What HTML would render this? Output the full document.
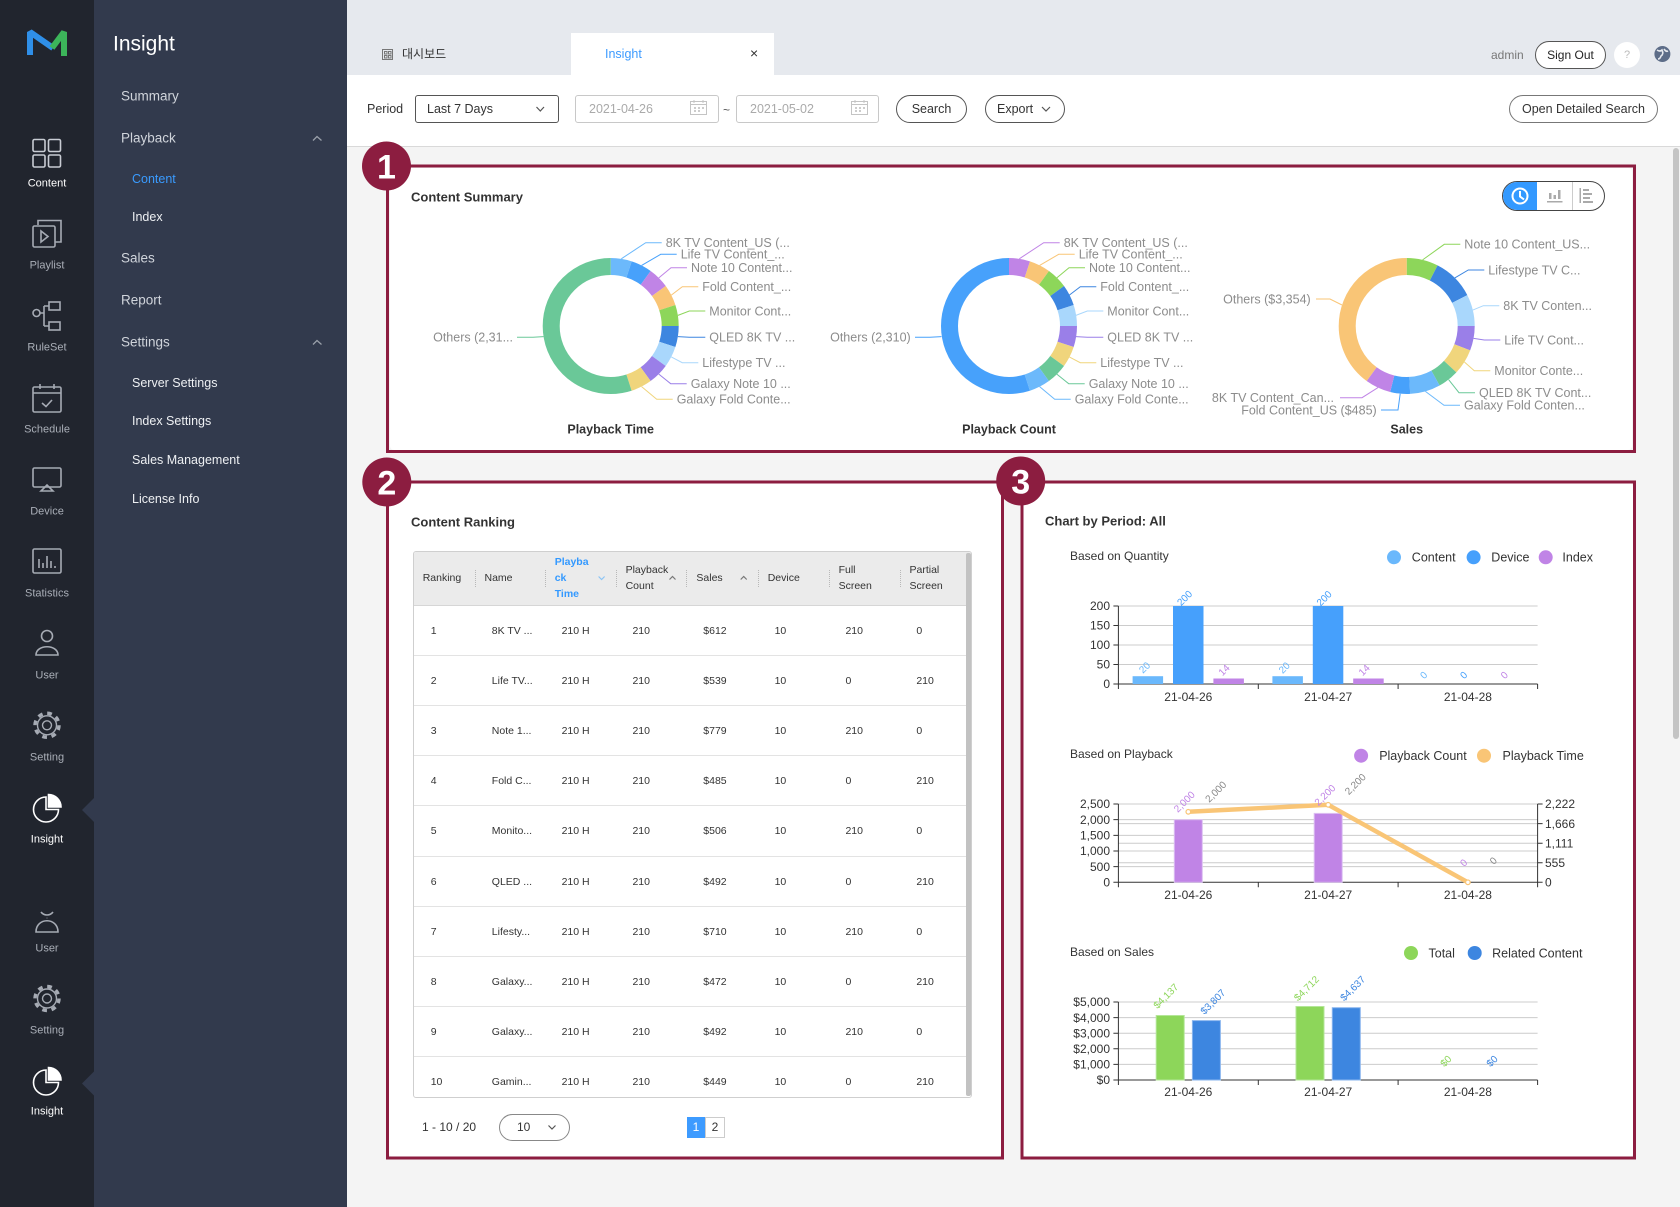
<!DOCTYPE html>
<html><head><meta charset="utf-8">
<style>
*{margin:0;padding:0;box-sizing:border-box}
body{width:1680px;height:1207px;overflow:hidden;background:#f4f4f4;font-family:"Liberation Sans","Noto Sans CJK KR",sans-serif;position:relative}
.a{position:absolute}
.t{position:absolute;white-space:nowrap;transform:translateY(-50%);line-height:1}
.sl{position:absolute;left:0;width:94px;text-align:center;font-size:11px;color:#a9aeb7;transform:translateY(-50%);line-height:1}
.mi{font-size:13.5px;color:#d0d4db}
.si{font-size:12.5px;color:#eef0f3}
.pill{position:absolute;border:1px solid #555;border-radius:14px;background:#fff;font-size:12.5px;color:#333;display:flex;align-items:center;justify-content:center}
.row{position:absolute;left:0;width:552px;height:50.12px;border-bottom:1px solid #e3e3e3;font-size:10.5px;color:#333;line-height:50px;white-space:nowrap;padding-left:16.7px}
.row span{display:inline-block}
.hd{position:absolute;font-size:10.5px;color:#333;line-height:16px;white-space:nowrap}
.sep{position:absolute;top:18px;height:17px;border-left:1px dotted #b8b8b8}
</style></head><body>

<!-- sidebars -->
<div class="a" style="left:0;top:0;width:94px;height:1207px;background:#21252e"></div>
<div class="a" style="left:94px;top:0;width:253px;height:1207px;background:#323a4d"></div>

<!-- header / toolbar -->
<div class="a" style="left:347px;top:0;width:1333px;height:75px;background:#e6e9ee"></div>
<div class="a" style="left:571px;top:33px;width:203px;height:42px;background:#fff"></div>
<div class="a" style="left:347px;top:75px;width:1333px;height:72px;background:#fff;border-bottom:1px solid #d9d9d9"></div>

<!-- cards -->
<div class="a" style="left:390px;top:168px;width:1242px;height:282px;background:#fff;border-radius:4px"></div>
<div class="a" style="left:389px;top:483px;width:612px;height:674px;background:#fff;border-radius:4px"></div>
<div class="a" style="left:1023px;top:483px;width:610px;height:674px;background:#fff;border-radius:4px"></div>

<!-- scrollbar -->
<div class="a" style="left:1673px;top:148px;width:6px;height:591px;background:#c4c4c4;border-radius:3px"></div>

<!-- sidebar labels -->
<div class="sl" style="top:184px;color:#fff">Content</div>
<div class="sl" style="top:266px">Playlist</div>
<div class="sl" style="top:348px">RuleSet</div>
<div class="sl" style="top:430px">Schedule</div>
<div class="sl" style="top:512px">Device</div>
<div class="sl" style="top:594px">Statistics</div>
<div class="sl" style="top:676px">User</div>
<div class="sl" style="top:758px">Setting</div>
<div class="sl" style="top:840px;color:#fff">Insight</div>
<div class="sl" style="top:949px">User</div>
<div class="sl" style="top:1031px">Setting</div>
<div class="sl" style="top:1112px;color:#fff">Insight</div>

<!-- menu -->
<div class="t" style="left:113px;top:44px;font-size:21px;color:#fff">Insight</div>
<div class="t mi" style="left:121px;top:96px">Summary</div>
<div class="t mi" style="left:121px;top:138px">Playback</div>
<div class="t si" style="left:132px;top:179px;color:#3a9bff">Content</div>
<div class="t si" style="left:132px;top:217px">Index</div>
<div class="t mi" style="left:121px;top:258px">Sales</div>
<div class="t mi" style="left:121px;top:300px">Report</div>
<div class="t mi" style="left:121px;top:342px">Settings</div>
<div class="t si" style="left:132px;top:383px">Server Settings</div>
<div class="t si" style="left:132px;top:421px">Index Settings</div>
<div class="t si" style="left:132px;top:460px">Sales Management</div>
<div class="t si" style="left:132px;top:499px">License Info</div>

<!-- header texts -->
<div class="t" style="left:402px;top:54px;font-size:12px;color:#333">대시보드</div>
<div class="t" style="left:605px;top:54px;font-size:12.5px;color:#3d9bff">Insight</div>
<div class="t" style="left:750px;top:53px;font-size:14px;color:#333">×</div>
<div class="t" style="left:1491px;top:55px;font-size:12px;color:#777">admin</div>
<div class="pill" style="left:1535px;top:41px;width:71px;height:28px;font-size:12px;color:#222">Sign Out</div>
<div class="a" style="left:1614px;top:42px;width:26px;height:26px;border-radius:13px;background:#fff;color:#bbb;font-size:11px;text-align:center;line-height:26px">?</div>

<!-- toolbar -->
<div class="t" style="left:367px;top:109px;font-size:12.5px;color:#333">Period</div>
<div class="a" style="left:415px;top:95px;width:144px;height:28px;border:1px solid #555;border-radius:3px"></div>
<div class="t" style="left:427px;top:109px;font-size:12.5px;color:#333">Last 7 Days</div>
<div class="a" style="left:575px;top:95px;width:144px;height:28px;border:1px solid #c8c8c8;border-radius:3px"></div>
<div class="t" style="left:589px;top:109px;font-size:12.5px;color:#aaa">2021-04-26</div>
<div class="t" style="left:723px;top:110px;font-size:12px;color:#555">~</div>
<div class="a" style="left:736px;top:95px;width:143px;height:28px;border:1px solid #c8c8c8;border-radius:3px"></div>
<div class="t" style="left:750px;top:109px;font-size:12.5px;color:#aaa">2021-05-02</div>
<div class="pill" style="left:896px;top:95px;width:71px;height:28px">Search</div>
<div class="pill" style="left:985px;top:95px;width:80px;height:28px;justify-content:flex-start;padding-left:11px">Export</div>
<div class="pill" style="left:1509px;top:95px;width:149px;height:28px;border-color:#777">Open Detailed Search</div>

<!-- toggle -->
<div class="a" style="left:1502px;top:181px;width:103px;height:30px;border:1px solid #444;border-radius:15px;overflow:hidden;background:#fff">
<div class="a" style="left:0;top:0;width:34px;height:30px;background:#3399ff"></div>
<div class="a" style="left:69px;top:0;width:1px;height:30px;background:#ccc"></div>
</div>

<!-- titles -->
<div class="t" style="left:411px;top:197px;font-size:13px;font-weight:bold;color:#333">Content Summary</div>
<div class="t" style="left:411px;top:522px;font-size:13px;font-weight:bold;color:#333">Content Ranking</div>
<div class="t" style="left:1045px;top:521px;font-size:13px;font-weight:bold;color:#333">Chart by Period: All</div>

<!-- table -->
<div class="a" style="left:413px;top:551px;width:559px;height:547px;border:1px solid #cfcfcf;border-radius:3px;background:#fff;overflow:hidden">
 <div class="a" style="left:0;top:0;width:557px;height:54px;background:#ebebeb;border-bottom:1px solid #d6d6d6"></div>
 <div class="hd" style="left:8.7px;top:18px">Ranking</div>
 <div class="hd" style="left:70.5px;top:18px">Name</div>
 <div class="hd" style="left:140.7px;top:1.7px;color:#3399ff;font-weight:bold">Playba<br>ck<br>Time</div>
 <div class="hd" style="left:211.6px;top:10px">Playback<br>Count</div>
 <div class="hd" style="left:282.4px;top:18px">Sales</div>
 <div class="hd" style="left:353.7px;top:18px">Device</div>
 <div class="hd" style="left:424.6px;top:10px">Full<br>Screen</div>
 <div class="hd" style="left:495.5px;top:10px">Partial<br>Screen</div>
 <div class="sep" style="left:60.7px"></div><div class="sep" style="left:130.5px"></div><div class="sep" style="left:201.7px"></div><div class="sep" style="left:272.3px"></div><div class="sep" style="left:343.9px"></div><div class="sep" style="left:414.8px"></div><div class="sep" style="left:485.6px"></div>
 <svg class="a" style="left:0;top:0" width="557" height="54"><polyline points="184.6,24.5 187.6,27.5 190.6,24.5" fill="none" stroke="#8cc4f5" stroke-width="1.2"/><polyline points="255.5,27.5 258.5,24.5 261.5,27.5" fill="none" stroke="#777" stroke-width="1.2"/><polyline points="326.7,27.5 329.7,24.5 332.7,27.5" fill="none" stroke="#777" stroke-width="1.2"/></svg>
 <div class="row" style="top:54px"><span style="width:61.1px">1</span><span style="width:69.8px">8K TV ...</span><span style="width:70.9px">210 H</span><span style="width:70.8px">210</span><span style="width:71.3px">$612</span><span style="width:70.9px">10</span><span style="width:70.9px">210</span><span>0</span></div>
 <div class="row" style="top:104.12px"><span style="width:61.1px">2</span><span style="width:69.8px">Life TV...</span><span style="width:70.9px">210 H</span><span style="width:70.8px">210</span><span style="width:71.3px">$539</span><span style="width:70.9px">10</span><span style="width:70.9px">0</span><span>210</span></div>
 <div class="row" style="top:154.24px"><span style="width:61.1px">3</span><span style="width:69.8px">Note 1...</span><span style="width:70.9px">210 H</span><span style="width:70.8px">210</span><span style="width:71.3px">$779</span><span style="width:70.9px">10</span><span style="width:70.9px">210</span><span>0</span></div>
 <div class="row" style="top:204.36px"><span style="width:61.1px">4</span><span style="width:69.8px">Fold C...</span><span style="width:70.9px">210 H</span><span style="width:70.8px">210</span><span style="width:71.3px">$485</span><span style="width:70.9px">10</span><span style="width:70.9px">0</span><span>210</span></div>
 <div class="row" style="top:254.48px"><span style="width:61.1px">5</span><span style="width:69.8px">Monito...</span><span style="width:70.9px">210 H</span><span style="width:70.8px">210</span><span style="width:71.3px">$506</span><span style="width:70.9px">10</span><span style="width:70.9px">210</span><span>0</span></div>
 <div class="row" style="top:304.6px"><span style="width:61.1px">6</span><span style="width:69.8px">QLED ...</span><span style="width:70.9px">210 H</span><span style="width:70.8px">210</span><span style="width:71.3px">$492</span><span style="width:70.9px">10</span><span style="width:70.9px">0</span><span>210</span></div>
 <div class="row" style="top:354.72px"><span style="width:61.1px">7</span><span style="width:69.8px">Lifesty...</span><span style="width:70.9px">210 H</span><span style="width:70.8px">210</span><span style="width:71.3px">$710</span><span style="width:70.9px">10</span><span style="width:70.9px">210</span><span>0</span></div>
 <div class="row" style="top:404.84px"><span style="width:61.1px">8</span><span style="width:69.8px">Galaxy...</span><span style="width:70.9px">210 H</span><span style="width:70.8px">210</span><span style="width:71.3px">$472</span><span style="width:70.9px">10</span><span style="width:70.9px">0</span><span>210</span></div>
 <div class="row" style="top:454.96px"><span style="width:61.1px">9</span><span style="width:69.8px">Galaxy...</span><span style="width:70.9px">210 H</span><span style="width:70.8px">210</span><span style="width:71.3px">$492</span><span style="width:70.9px">10</span><span style="width:70.9px">210</span><span>0</span></div>
 <div class="row" style="top:505.08px"><span style="width:61.1px">10</span><span style="width:69.8px">Gamin...</span><span style="width:70.9px">210 H</span><span style="width:70.8px">210</span><span style="width:71.3px">$449</span><span style="width:70.9px">10</span><span style="width:70.9px">0</span><span>210</span></div>
 <div class="a" style="left:552px;top:1px;width:5px;height:543px;background:#c2c2c2;border-radius:2px"></div>
</div>

<!-- pagination -->
<div class="t" style="left:422px;top:1127px;font-size:12px;color:#333">1 - 10 / 20</div>
<div class="a" style="left:499px;top:1114px;width:71px;height:27px;border:1px solid #888;border-radius:14px;background:#fff"></div>
<div class="t" style="left:517px;top:1127px;font-size:12px;color:#333">10</div>
<div class="a" style="left:687px;top:1117px;width:18px;height:21px;background:#3d9bff;color:#fff;font-size:12px;text-align:center;line-height:21px">1</div>
<div class="a" style="left:705px;top:1117px;width:20px;height:21px;border:1px solid #ccc;background:#fff;color:#333;font-size:12px;text-align:center;line-height:19px">2</div>

<svg class="a" style="left:0;top:0" width="1680" height="1207" font-family="Liberation Sans, sans-serif">
<!-- logo -->
<path d="M30 55 V32 L53 48" fill="none" stroke="#2f8fe8" stroke-width="6" stroke-linejoin="bevel"/>
<path d="M52 48 L64 32 V56" fill="none" stroke="#3cb55a" stroke-width="6" stroke-linejoin="bevel"/>
<!-- sidebar icons -->
<g fill="none" stroke="#a6abb4" stroke-width="1.6">
<rect x="33" y="139.5" width="12" height="12" rx="1.5" stroke="#c8ccd3"/><rect x="48.5" y="139.5" width="12" height="12" rx="1.5" stroke="#c8ccd3"/><rect x="33" y="155" width="12" height="12" rx="1.5" stroke="#c8ccd3"/><rect x="48.5" y="155" width="12" height="12" rx="1.5" stroke="#c8ccd3"/>
<path d="M38 225 V220.5 H61 V242 H55.5"/><rect x="33" y="226" width="22" height="21" rx="1.5"/><path d="M41 231 L48 236.5 L41 242 Z"/>
<circle cx="36.5" cy="313" r="3.5"/><rect x="49" y="302" width="11" height="8"/><rect x="49" y="322" width="11" height="8"/><path d="M40 313 H44 M44 306 V326 M44 306 H49 M44 326 H49"/>
<rect x="33" y="387" width="28" height="25" rx="1.5"/><path d="M33 393 H61 M40 384 V389 M54 384 V389 M42 403 L46 406.5 L52 400"/>
<rect x="33" y="468" width="28" height="19" rx="1.5"/><path d="M41 491 L47 485 L53 491 Z"/>
<rect x="33" y="549" width="28" height="24" rx="1.5"/><path d="M39 568 V559 M43 568 V563 M47 568 V556 M51 568 V561 M55 568 V566"/>
<circle cx="47" cy="636" r="5.5"/><path d="M36 655 C36 644 58 644 58 655 Z"/>
<circle cx="47" cy="918" r="0.1"/><path d="M41 912 C44 916 50 916 53 912"/><path d="M36 932 C36 917 58 917 58 932 Z"/>
</g>
<g fill="none" stroke="#a6abb4">
<circle cx="47" cy="725.3" r="12" stroke-width="3.5" stroke-dasharray="4.7 4.7"/><circle cx="47" cy="725.3" r="9.5" stroke-width="1.4"/><circle cx="47" cy="725.3" r="4.5" stroke-width="1.4"/>
<circle cx="47" cy="998.5" r="12" stroke-width="3.5" stroke-dasharray="4.7 4.7"/><circle cx="47" cy="998.5" r="9.5" stroke-width="1.4"/><circle cx="47" cy="998.5" r="4.5" stroke-width="1.4"/>
</g>
<g stroke="#fff" stroke-width="1.6">
<path d="M46 797 A12.5 12.5 0 1 0 58.5 809.5 L46 809.5 Z" fill="none"/><path d="M48.5 794.5 A12.5 12.5 0 0 1 61 807 L48.5 807 Z" fill="#fff"/>
<path d="M46 1070 A12.5 12.5 0 1 0 58.5 1082.5 L46 1082.5 Z" fill="none"/><path d="M48.5 1067.5 A12.5 12.5 0 0 1 61 1080 L48.5 1080 Z" fill="#fff"/>
</g>
<path d="M82 810 L94 798 V822 Z" fill="#323a4d"/>
<path d="M82 1083.5 L94 1071.5 V1095.5 Z" fill="#323a4d"/>
<g fill="none" stroke="#9aa0aa" stroke-width="1.3">
<polyline points="313,140.5 317,136.5 321.5,140.5"/><polyline points="313,344.5 317,340.5 321.5,344.5"/>
</g>
<!-- header icons -->
<g fill="none" stroke="#777" stroke-width="1"><rect x="382.5" y="49.5" width="10" height="10"/><rect x="384.5" y="51.5" width="2.5" height="2.5"/><rect x="388.5" y="51.5" width="2.5" height="2.5"/><rect x="384.5" y="55.5" width="2.5" height="2.5"/><rect x="388.5" y="55.5" width="2.5" height="2.5"/></g>
<circle cx="1662.4" cy="54" r="8" fill="#5d6d88"/><path d="M1657 50 q3 2 5 0 q2 4 -1 6 q-1 3 -3 3 M1664 49 q2 3 4 2" fill="none" stroke="#e6e9ee" stroke-width="1.6"/>
<!-- toolbar icons -->
<g fill="none" stroke="#555" stroke-width="1.2"><polyline points="536.5,107 540.3,111 544,107"/><polyline points="1042,107 1046,111 1050,107"/></g>
<g fill="none" stroke="#c4c4c4" stroke-width="1"><rect x="690.5" y="101.5" width="16" height="13"/><path d="M690.5 104.5 H706.5 M694 100 V103 M703 100 V103"/><rect x="851.5" y="101.5" width="16" height="13"/><path d="M851.5 104.5 H867.5 M855 100 V103 M864 100 V103"/></g>
<g fill="#ccc"><rect x="694" y="107" width="2" height="2"/><rect x="698" y="107" width="2" height="2"/><rect x="702" y="107" width="2" height="2"/><rect x="694" y="110" width="2" height="2"/><rect x="698" y="110" width="2" height="2"/><rect x="855" y="107" width="2" height="2"/><rect x="859" y="107" width="2" height="2"/><rect x="863" y="107" width="2" height="2"/><rect x="855" y="110" width="2" height="2"/><rect x="859" y="110" width="2" height="2"/></g>
<!-- toggle icons -->
<circle cx="1520" cy="196" r="7.5" fill="none" stroke="#fff" stroke-width="2"/><path d="M1520 191 V196.5 L1524 199.5" fill="none" stroke="#fff" stroke-width="2"/>
<g fill="#aaa"><rect x="1549" y="193" width="2.5" height="6"/><rect x="1553.5" y="195" width="2.5" height="4"/><rect x="1558" y="190" width="2.5" height="9"/><rect x="1547" y="201" width="15.5" height="1.5"/>
<rect x="1579.5" y="188" width="1.5" height="15"/><rect x="1583" y="189" width="6" height="2"/><rect x="1583" y="193" width="9" height="2"/><rect x="1583" y="197" width="7" height="2"/><rect x="1583" y="201" width="10" height="2"/></g>
<!-- pagination chevron -->
<polyline points="548.5,1125.5 552,1129 555.5,1125.5" fill="none" stroke="#555" stroke-width="1.2"/>

<!-- DONUT 1 -->
<g transform="translate(610.7 326) rotate(-90)" fill="none" stroke-width="17">
<circle r="59.5" stroke="#6cb9fb" stroke-dasharray="18.69 400" stroke-dashoffset="0"/>
<circle r="59.5" stroke="#47a1fb" stroke-dasharray="18.69 400" stroke-dashoffset="-18.69"/>
<circle r="59.5" stroke="#c084e6" stroke-dasharray="18.69 400" stroke-dashoffset="-37.39"/>
<circle r="59.5" stroke="#f9c576" stroke-dasharray="18.69 400" stroke-dashoffset="-56.08"/>
<circle r="59.5" stroke="#8dd65a" stroke-dasharray="18.69 400" stroke-dashoffset="-74.77"/>
<circle r="59.5" stroke="#3d86e0" stroke-dasharray="18.69 400" stroke-dashoffset="-93.46"/>
<circle r="59.5" stroke="#a9d7fc" stroke-dasharray="18.69 400" stroke-dashoffset="-112.16"/>
<circle r="59.5" stroke="#9a7fe8" stroke-dasharray="18.69 400" stroke-dashoffset="-130.85"/>
<circle r="59.5" stroke="#f0d57c" stroke-dasharray="18.69 400" stroke-dashoffset="-149.54"/>
<circle r="59.5" stroke="#6ac898" stroke-dasharray="205.62 400" stroke-dashoffset="-168.23"/>
</g>
<g fill="none" stroke-width="1">
<polyline points="621.3,258.8 645.7,242.7 661.7,242.7" stroke="#6cb9fb"/>
<polyline points="641.6,265.4 660.7,254.3 676.7,254.3" stroke="#47a1fb"/>
<polyline points="658.8,277.9 671,267.7 687,267.7" stroke="#c084e6"/>
<polyline points="671.3,295.1 682.3,286.7 698.3,286.7" stroke="#f9c576"/>
<polyline points="677.9,315.4 689.3,311 705.3,311" stroke="#8dd65a"/>
<polyline points="677.9,336.6 689.3,337.3 705.3,337.3" stroke="#3d86e0"/>
<polyline points="671.3,356.9 682.3,362.7 698.3,362.7" stroke="#a9d7fc"/>
<polyline points="658.8,374.1 670.7,383.7 686.7,383.7" stroke="#9a7fe8"/>
<polyline points="641.6,386.6 656.7,399.3 672.7,399.3" stroke="#f0d57c"/>
<polyline points="543.5,336.6 533,337.3 517,337.3" stroke="#6ac898"/>
</g>
<g font-size="12.5" fill="#8c8c8c">
<text x="665.7" y="247.1">8K TV Content_US (...</text>
<text x="680.7" y="258.7">Life TV Content_...</text>
<text x="691" y="272.1">Note 10 Content...</text>
<text x="702.3" y="291.1">Fold Content_...</text>
<text x="709.3" y="315.4">Monitor Cont...</text>
<text x="709.3" y="341.7">QLED 8K TV ...</text>
<text x="702.3" y="367.1">Lifestype TV ...</text>
<text x="690.7" y="388.1">Galaxy Note 10 ...</text>
<text x="676.7" y="403.7">Galaxy Fold Conte...</text>
<text x="513" y="341.7" text-anchor="end">Others (2,31...</text>
</g>

<!-- DONUT 2 -->
<g transform="translate(1009 326) rotate(-90)" fill="none" stroke-width="17">
<circle r="59.5" stroke="#c084e6" stroke-dasharray="18.69 400" stroke-dashoffset="0"/>
<circle r="59.5" stroke="#f9c576" stroke-dasharray="18.69 400" stroke-dashoffset="-18.69"/>
<circle r="59.5" stroke="#8dd65a" stroke-dasharray="18.69 400" stroke-dashoffset="-37.39"/>
<circle r="59.5" stroke="#3d86e0" stroke-dasharray="18.69 400" stroke-dashoffset="-56.08"/>
<circle r="59.5" stroke="#a9d7fc" stroke-dasharray="18.69 400" stroke-dashoffset="-74.77"/>
<circle r="59.5" stroke="#9a7fe8" stroke-dasharray="18.69 400" stroke-dashoffset="-93.46"/>
<circle r="59.5" stroke="#f0d57c" stroke-dasharray="18.69 400" stroke-dashoffset="-112.16"/>
<circle r="59.5" stroke="#6ac898" stroke-dasharray="18.69 400" stroke-dashoffset="-130.85"/>
<circle r="59.5" stroke="#6cb9fb" stroke-dasharray="18.69 400" stroke-dashoffset="-149.54"/>
<circle r="59.5" stroke="#47a1fb" stroke-dasharray="205.62 400" stroke-dashoffset="-168.23"/>
</g>
<g fill="none" stroke-width="1">
<polyline points="1019.3,258.8 1043.7,242.7 1059.7,242.7" stroke="#c084e6"/>
<polyline points="1039.6,265.4 1058.7,254.3 1074.7,254.3" stroke="#f9c576"/>
<polyline points="1056.8,277.9 1069,267.7 1085,267.7" stroke="#8dd65a"/>
<polyline points="1069.3,295.1 1080.3,286.7 1096.3,286.7" stroke="#3d86e0"/>
<polyline points="1075.9,315.4 1087.3,311 1103.3,311" stroke="#a9d7fc"/>
<polyline points="1075.9,336.6 1087.3,337.3 1103.3,337.3" stroke="#9a7fe8"/>
<polyline points="1069.3,356.9 1080.3,362.7 1096.3,362.7" stroke="#f0d57c"/>
<polyline points="1056.8,374.1 1068.7,383.7 1084.7,383.7" stroke="#6ac898"/>
<polyline points="1039.6,386.6 1054.7,399.3 1070.7,399.3" stroke="#6cb9fb"/>
<polyline points="941.5,336.6 930,337.3 915,337.3" stroke="#47a1fb"/>
</g>
<g font-size="12.5" fill="#8c8c8c">
<text x="1063.7" y="247.1">8K TV Content_US (...</text>
<text x="1078.7" y="258.7">Life TV Content_...</text>
<text x="1089" y="272.1">Note 10 Content...</text>
<text x="1100.3" y="291.1">Fold Content_...</text>
<text x="1107.3" y="315.4">Monitor Cont...</text>
<text x="1107.3" y="341.7">QLED 8K TV ...</text>
<text x="1100.3" y="367.1">Lifestype TV ...</text>
<text x="1088.7" y="388.1">Galaxy Note 10 ...</text>
<text x="1074.7" y="403.7">Galaxy Fold Conte...</text>
<text x="910.7" y="341.7" text-anchor="end">Others (2,310)</text>
</g>

<!-- DONUT 3 -->
<g transform="translate(1406.7 326) rotate(-90)" fill="none" stroke-width="17">
<circle r="59.5" stroke="#8dd65a" stroke-dasharray="28.04 400" stroke-dashoffset="0"/>
<circle r="59.5" stroke="#3d86e0" stroke-dasharray="37.39 400" stroke-dashoffset="-28.04"/>
<circle r="59.5" stroke="#a9d7fc" stroke-dasharray="28.04 400" stroke-dashoffset="-65.42"/>
<circle r="59.5" stroke="#9a7fe8" stroke-dasharray="21.81 400" stroke-dashoffset="-93.46"/>
<circle r="59.5" stroke="#f0d57c" stroke-dasharray="22.85 400" stroke-dashoffset="-115.27"/>
<circle r="59.5" stroke="#6ac898" stroke-dasharray="18.69 400" stroke-dashoffset="-138.12"/>
<circle r="59.5" stroke="#6cb9fb" stroke-dasharray="27.0 400" stroke-dashoffset="-156.81"/>
<circle r="59.5" stroke="#47a1fb" stroke-dasharray="17.65 400" stroke-dashoffset="-183.81"/>
<circle r="59.5" stroke="#c084e6" stroke-dasharray="22.85 400" stroke-dashoffset="-201.47"/>
<circle r="59.5" stroke="#f9c576" stroke-dasharray="149.54 400" stroke-dashoffset="-224.31"/>
</g>
<g fill="none" stroke-width="1">
<polyline points="1422.6,259.9 1444.3,244.3 1460.3,244.3" stroke="#8dd65a"/>
<polyline points="1454.8,277.9 1468.3,270 1484.3,270" stroke="#3d86e0"/>
<polyline points="1472.8,310.1 1483.3,305.7 1499.3,305.7" stroke="#a9d7fc"/>
<polyline points="1473.6,338.4 1484.3,340 1500.3,340" stroke="#9a7fe8"/>
<polyline points="1464.4,362 1474.3,370.7 1490.3,370.7" stroke="#f0d57c"/>
<polyline points="1448.6,379.6 1459,392.7 1475,392.7" stroke="#6ac898"/>
<polyline points="1425.4,391.4 1444,405.3 1460,405.3" stroke="#6cb9fb"/>
<polyline points="1400.2,393.7 1398,410 1381,410" stroke="#47a1fb"/>
<polyline points="1378,387.6 1362,397.7 1340,397.7" stroke="#c084e6"/>
<polyline points="1342,305 1330,299 1316,299" stroke="#f9c576"/>
</g>
<g font-size="12.5" fill="#8c8c8c">
<text x="1464.3" y="248.7">Note 10 Content_US...</text>
<text x="1488.3" y="274.4">Lifestype TV C...</text>
<text x="1503.3" y="310.1">8K TV Conten...</text>
<text x="1504.3" y="344.4">Life TV Cont...</text>
<text x="1494.3" y="375.1">Monitor Conte...</text>
<text x="1479" y="397.1">QLED 8K TV Cont...</text>
<text x="1464" y="409.7">Galaxy Fold Conten...</text>
<text x="1376.7" y="414.4" text-anchor="end">Fold Content_US ($485)</text>
<text x="1334" y="402.1" text-anchor="end">8K TV Content_Can...</text>
<text x="1310.7" y="303.4" text-anchor="end">Others ($3,354)</text>
</g>
<g font-size="12.5" font-weight="bold" fill="#333" text-anchor="middle">
<text x="610.7" y="433.7">Playback Time</text>
<text x="1009" y="433.7">Playback Count</text>
<text x="1406.7" y="433.7">Sales</text>
</g>

<!-- CHART 1 Quantity -->
<g font-size="12" fill="#333">
<text x="1070" y="559.9">Based on Quantity</text>
<circle cx="1394" cy="557.3" r="7" fill="#6ab8fc"/><text x="1411.8" y="561.7" font-size="12.5">Content</text>
<circle cx="1473.6" cy="557.3" r="7" fill="#46a0fc"/><text x="1491.3" y="561.7" font-size="12.5">Device</text>
<circle cx="1545.7" cy="557.3" r="7" fill="#c084e6"/><text x="1562.4" y="561.7" font-size="12.5">Index</text>
<path d="M1118.4 606H1537.6M1118.4 625.5H1537.6M1118.4 645H1537.6M1118.4 664.5H1537.6" stroke="#ccc" stroke-width="1"/>
<path d="M1118.4 606V684H1537.6M1113.4 606h5M1113.4 625.5h5M1113.4 645h5M1113.4 664.5h5M1113.4 684h5M1118.4 684v5M1258.3 684v5M1398.1 684v5M1537.6 684v5" stroke="#333" stroke-width="1" fill="none"/>
<g text-anchor="end"><text x="1110" y="610.2">200</text><text x="1110" y="629.7">150</text><text x="1110" y="649.2">100</text><text x="1110" y="668.7">50</text><text x="1110" y="688.2">0</text></g>
<g text-anchor="middle"><text x="1188.3" y="700.9">21-04-26</text><text x="1328.2" y="700.9">21-04-27</text><text x="1467.9" y="700.9">21-04-28</text></g>
<rect x="1132.6" y="676.2" width="30.5" height="7.8" fill="#6ab8fc"/><rect x="1173" y="606" width="30.5" height="78" fill="#46a0fc"/><rect x="1213.4" y="678.5" width="30.5" height="5.5" fill="#c084e6"/>
<rect x="1272.4" y="676.2" width="30.5" height="7.8" fill="#6ab8fc"/><rect x="1312.8" y="606" width="30.5" height="78" fill="#46a0fc"/><rect x="1353.2" y="678.5" width="30.5" height="5.5" fill="#c084e6"/>
<g font-size="10" text-anchor="middle">
<text x="1144.5" y="671" fill="#6ab8fc" transform="rotate(-45 1144.5 667.5)">20</text>
<text x="1184.5" y="601.5" fill="#46a0fc" transform="rotate(-45 1184.5 598)">200</text>
<text x="1224" y="673.5" fill="#c084e6" transform="rotate(-45 1224 670)">14</text>
<text x="1284.2" y="671.2" fill="#6ab8fc" transform="rotate(-45 1284.2 667.7)">20</text>
<text x="1324.1" y="601.8" fill="#46a0fc" transform="rotate(-45 1324.1 598.3)">200</text>
<text x="1364.1" y="673.5" fill="#c084e6" transform="rotate(-45 1364.1 670)">14</text>
<text x="1423.6" y="678.5" fill="#6ab8fc" transform="rotate(-45 1423.6 675)">0</text>
<text x="1463.6" y="678.5" fill="#46a0fc" transform="rotate(-45 1463.6 675)">0</text>
<text x="1504.3" y="678.5" fill="#c084e6" transform="rotate(-45 1504.3 675)">0</text>
</g>
</g>

<!-- CHART 2 Playback -->
<g font-size="12" fill="#333">
<text x="1070" y="758.2">Based on Playback</text>
<circle cx="1361.1" cy="755.7" r="7" fill="#c084e6"/><text x="1379.2" y="760.1" font-size="12.5">Playback Count</text>
<circle cx="1484" cy="755.7" r="7" fill="#f9c576"/><text x="1502.5" y="760.1" font-size="12.5">Playback Time</text>
<path d="M1118.4 804H1537.6M1118.4 819.66H1537.6M1118.4 823.6H1537.6M1118.4 835.32H1537.6M1118.4 843.2H1537.6M1118.4 850.98H1537.6M1118.4 862.7H1537.6M1118.4 866.64H1537.6" stroke="#ccc" stroke-width="1"/>
<path d="M1118.4 804V882.3H1537.6V804M1113.4 804h5M1113.4 819.66h5M1113.4 835.32h5M1113.4 850.98h5M1113.4 866.64h5M1113.4 882.3h5M1537.6 804h5M1537.6 823.6h5M1537.6 843.2h5M1537.6 862.7h5M1537.6 882.3h5M1118.4 882.3v5M1258.3 882.3v5M1398.1 882.3v5M1537.6 882.3v5" stroke="#333" stroke-width="1" fill="none"/>
<g text-anchor="end"><text x="1110" y="808.2">2,500</text><text x="1110" y="823.9">2,000</text><text x="1110" y="839.5">1,500</text><text x="1110" y="855.2">1,000</text><text x="1110" y="870.8">500</text><text x="1110" y="886.5">0</text></g>
<g><text x="1545" y="808.2">2,222</text><text x="1545" y="827.8">1,666</text><text x="1545" y="847.4">1,111</text><text x="1545" y="866.9">555</text><text x="1545" y="886.5">0</text></g>
<g text-anchor="middle"><text x="1188.3" y="899.2">21-04-26</text><text x="1328.2" y="899.2">21-04-27</text><text x="1467.9" y="899.2">21-04-28</text></g>
<rect x="1174.3" y="819.7" width="28" height="62.6" fill="#c084e6" stroke="#dcc0f2" stroke-width="1"/>
<rect x="1314.2" y="813.4" width="28" height="68.9" fill="#c084e6" stroke="#dcc0f2" stroke-width="1"/>
<polyline points="1188.3,811.8 1328.2,804.8 1467.9,882.3" fill="none" stroke="#f9c576" stroke-width="4.5" stroke-linejoin="round"/>
<circle cx="1188.3" cy="811.8" r="2.3" fill="#fff" stroke="#f9c576" stroke-width="1.2"/><circle cx="1328.2" cy="804.8" r="2.3" fill="#fff" stroke="#f9c576" stroke-width="1.2"/><circle cx="1467.9" cy="882.3" r="2.3" fill="#fff" stroke="#f9c576" stroke-width="1.2"/>
<g font-size="10" text-anchor="middle">
<text x="1184.3" y="805.2" fill="#c084e6" transform="rotate(-45 1184.3 801.7)">2,000</text>
<text x="1215.7" y="795.2" fill="#888" transform="rotate(-45 1215.7 791.7)">2,000</text>
<text x="1324.9" y="798.5" fill="#c084e6" transform="rotate(-45 1324.9 795)">2,200</text>
<text x="1355.2" y="787.5" fill="#888" transform="rotate(-45 1355.2 784)">2,200</text>
<text x="1463.6" y="866.2" fill="#c084e6" transform="rotate(-45 1463.6 862.7)">0</text>
<text x="1493.2" y="864.2" fill="#888" transform="rotate(-45 1493.2 860.7)">0</text>
</g>
</g>

<!-- CHART 3 Sales -->
<g font-size="12" fill="#333">
<text x="1070" y="955.9">Based on Sales</text>
<circle cx="1411" cy="953" r="7" fill="#8dd65a"/><text x="1428.5" y="957.4" font-size="12.5">Total</text>
<circle cx="1474.7" cy="953" r="7" fill="#3d86e0"/><text x="1492.1" y="957.4" font-size="12.5">Related Content</text>
<path d="M1118.4 1002H1537.6M1118.4 1017.6H1537.6M1118.4 1033.2H1537.6M1118.4 1048.8H1537.6M1118.4 1064.4H1537.6" stroke="#ccc" stroke-width="1"/>
<path d="M1118.4 1002V1080H1537.6M1113.4 1002h5M1113.4 1017.6h5M1113.4 1033.2h5M1113.4 1048.8h5M1113.4 1064.4h5M1113.4 1080h5M1118.4 1080v5M1258.3 1080v5M1398.1 1080v5M1537.6 1080v5" stroke="#333" stroke-width="1" fill="none"/>
<g text-anchor="end"><text x="1110" y="1006.2">$5,000</text><text x="1110" y="1021.8">$4,000</text><text x="1110" y="1037.4">$3,000</text><text x="1110" y="1053">$2,000</text><text x="1110" y="1068.6">$1,000</text><text x="1110" y="1084.2">$0</text></g>
<g text-anchor="middle"><text x="1188.3" y="1095.9">21-04-26</text><text x="1328.2" y="1095.9">21-04-27</text><text x="1467.9" y="1095.9">21-04-28</text></g>
<rect x="1156.2" y="1015.5" width="28" height="64.5" fill="#8dd65a" stroke="#b4e698" stroke-width="1"/>
<rect x="1192.4" y="1020.6" width="28" height="59.4" fill="#3d86e0" stroke="#8ab6ee" stroke-width="1"/>
<rect x="1296" y="1006.5" width="28" height="73.5" fill="#8dd65a" stroke="#b4e698" stroke-width="1"/>
<rect x="1332.3" y="1007.7" width="28" height="72.3" fill="#3d86e0" stroke="#8ab6ee" stroke-width="1"/>
<g font-size="10" text-anchor="middle">
<text x="1165.8" y="999.5" fill="#8dd65a" transform="rotate(-45 1165.8 996)">$4,137</text>
<text x="1212.8" y="1005.2" fill="#3d86e0" transform="rotate(-45 1212.8 1001.7)">$3,807</text>
<text x="1306.4" y="991.8" fill="#8dd65a" transform="rotate(-45 1306.4 988.3)">$4,712</text>
<text x="1352.6" y="991.8" fill="#3d86e0" transform="rotate(-45 1352.6 988.3)">$4,637</text>
<text x="1445.8" y="1064.5" fill="#8dd65a" transform="rotate(-45 1445.8 1061)">$0</text>
<text x="1492" y="1064.5" fill="#3d86e0" transform="rotate(-45 1492 1061)">$0</text>
</g>
</g>

<!-- annotation boxes -->
<g fill="none" stroke="#8c1d40" stroke-width="3">
<rect x="387.5" y="166" width="1247" height="285.5"/>
<rect x="387.5" y="482" width="615" height="676"/>
<rect x="1022" y="482" width="612.5" height="676"/>
</g>
<g fill="#8c1d40"><circle cx="386.5" cy="166" r="24.5"/><circle cx="386.8" cy="482" r="24.5"/><circle cx="1020.7" cy="481" r="24.5"/></g>
<g fill="#fff" font-size="34" font-weight="bold" text-anchor="middle" font-family="Liberation Sans Narrow, Liberation Sans, sans-serif">
<text x="386.5" y="178.5">1</text><text x="386.8" y="494.5">2</text><text x="1020.7" y="493.5">3</text>
</g>
</svg>
</body></html>
